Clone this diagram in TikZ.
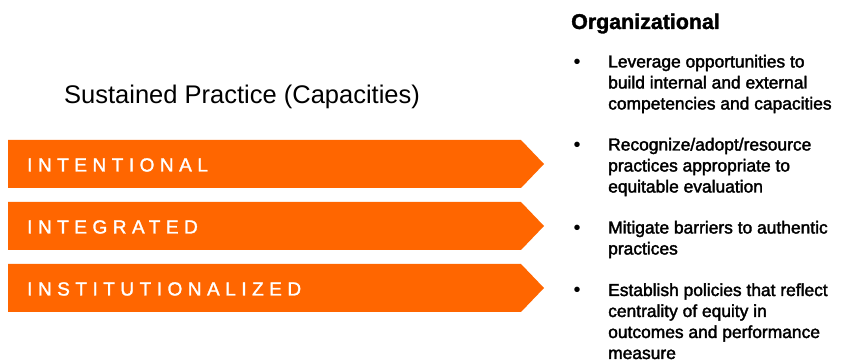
\documentclass[tikz,border=0pt]{standalone}
\usepackage{fontspec}
\setmainfont{Liberation Sans}
\newfontfamily\bandfont[LetterSpace=29,FakeBold=1.5]{Liberation Sans}
\newfontfamily\listfont[FakeBold=2]{Liberation Sans}
\newfontfamily\headfont[FakeBold=1.5]{Liberation Sans Bold}
\definecolor{bandorange}{RGB}{255,102,0}
\newcommand{\itemlines}[1]{\parbox[t]{240pt}{\raggedright\listfont\fontsize{17.4}{21}\selectfont #1}}
\tikzset{
  bandtext/.style={anchor=base west, inner sep=0pt, text=white, font=\bandfont\fontsize{19}{19}\selectfont},
  bullettext/.style={anchor=base west, inner sep=0pt},
  bulletmark/.style={anchor=base, inner sep=0pt, font=\fontsize{20}{20}\selectfont},
}
\begin{document}
\begin{tikzpicture}[x=1pt,y=-1pt]
\useasboundingbox (0,0) rectangle (841,363);
% bands
\foreach \t in {140,202,264}{
  \fill[bandorange] (8,\t) -- (521,\t) -- (544,\t+24) -- (521,\t+48) -- (8,\t+48) -- cycle;
}
\node[anchor=base west, inner sep=0pt, font=\fontsize{25.5}{26}\selectfont] (title) at (64,104) {Sustained Practice (Capacities)};
\node[bandtext] (b1) at (27,171.5) {INTENTIONAL};
\node[bandtext] (b2) at (27,233.5) {INTEGRATED};
\node[bandtext] (b3) at (27,295.5) {INSTITUTIONALIZED};
% right column
\node[anchor=base west, inner sep=0pt, font=\headfont\fontsize{21.4}{21}\selectfont] (org) at (571,29) {Organizational};
\node[bulletmark] (m1) at (577,68.5) {\textbullet};
\node[bullettext] (l1) at (608,67.5) {\itemlines{Leverage opportunities to\\build internal and external\\competencies and capacities}};
\node[bulletmark] (m2) at (577,151.5) {\textbullet};
\node[bullettext] (l2) at (608,150.5) {\itemlines{Recognize/adopt/resource\\practices appropriate to\\equitable evaluation}};
\node[bulletmark] (m3) at (577,234.5) {\textbullet};
\node[bullettext] (l3) at (608,233.5) {\itemlines{Mitigate barriers to authentic\\practices}};
\node[bulletmark] (m4) at (577,297) {\textbullet};
\node[bullettext] (l4) at (608,296) {\itemlines{Establish policies that reflect\\centrality of equity in\\outcomes and performance\\measure}};
\end{tikzpicture}
\end{document}
